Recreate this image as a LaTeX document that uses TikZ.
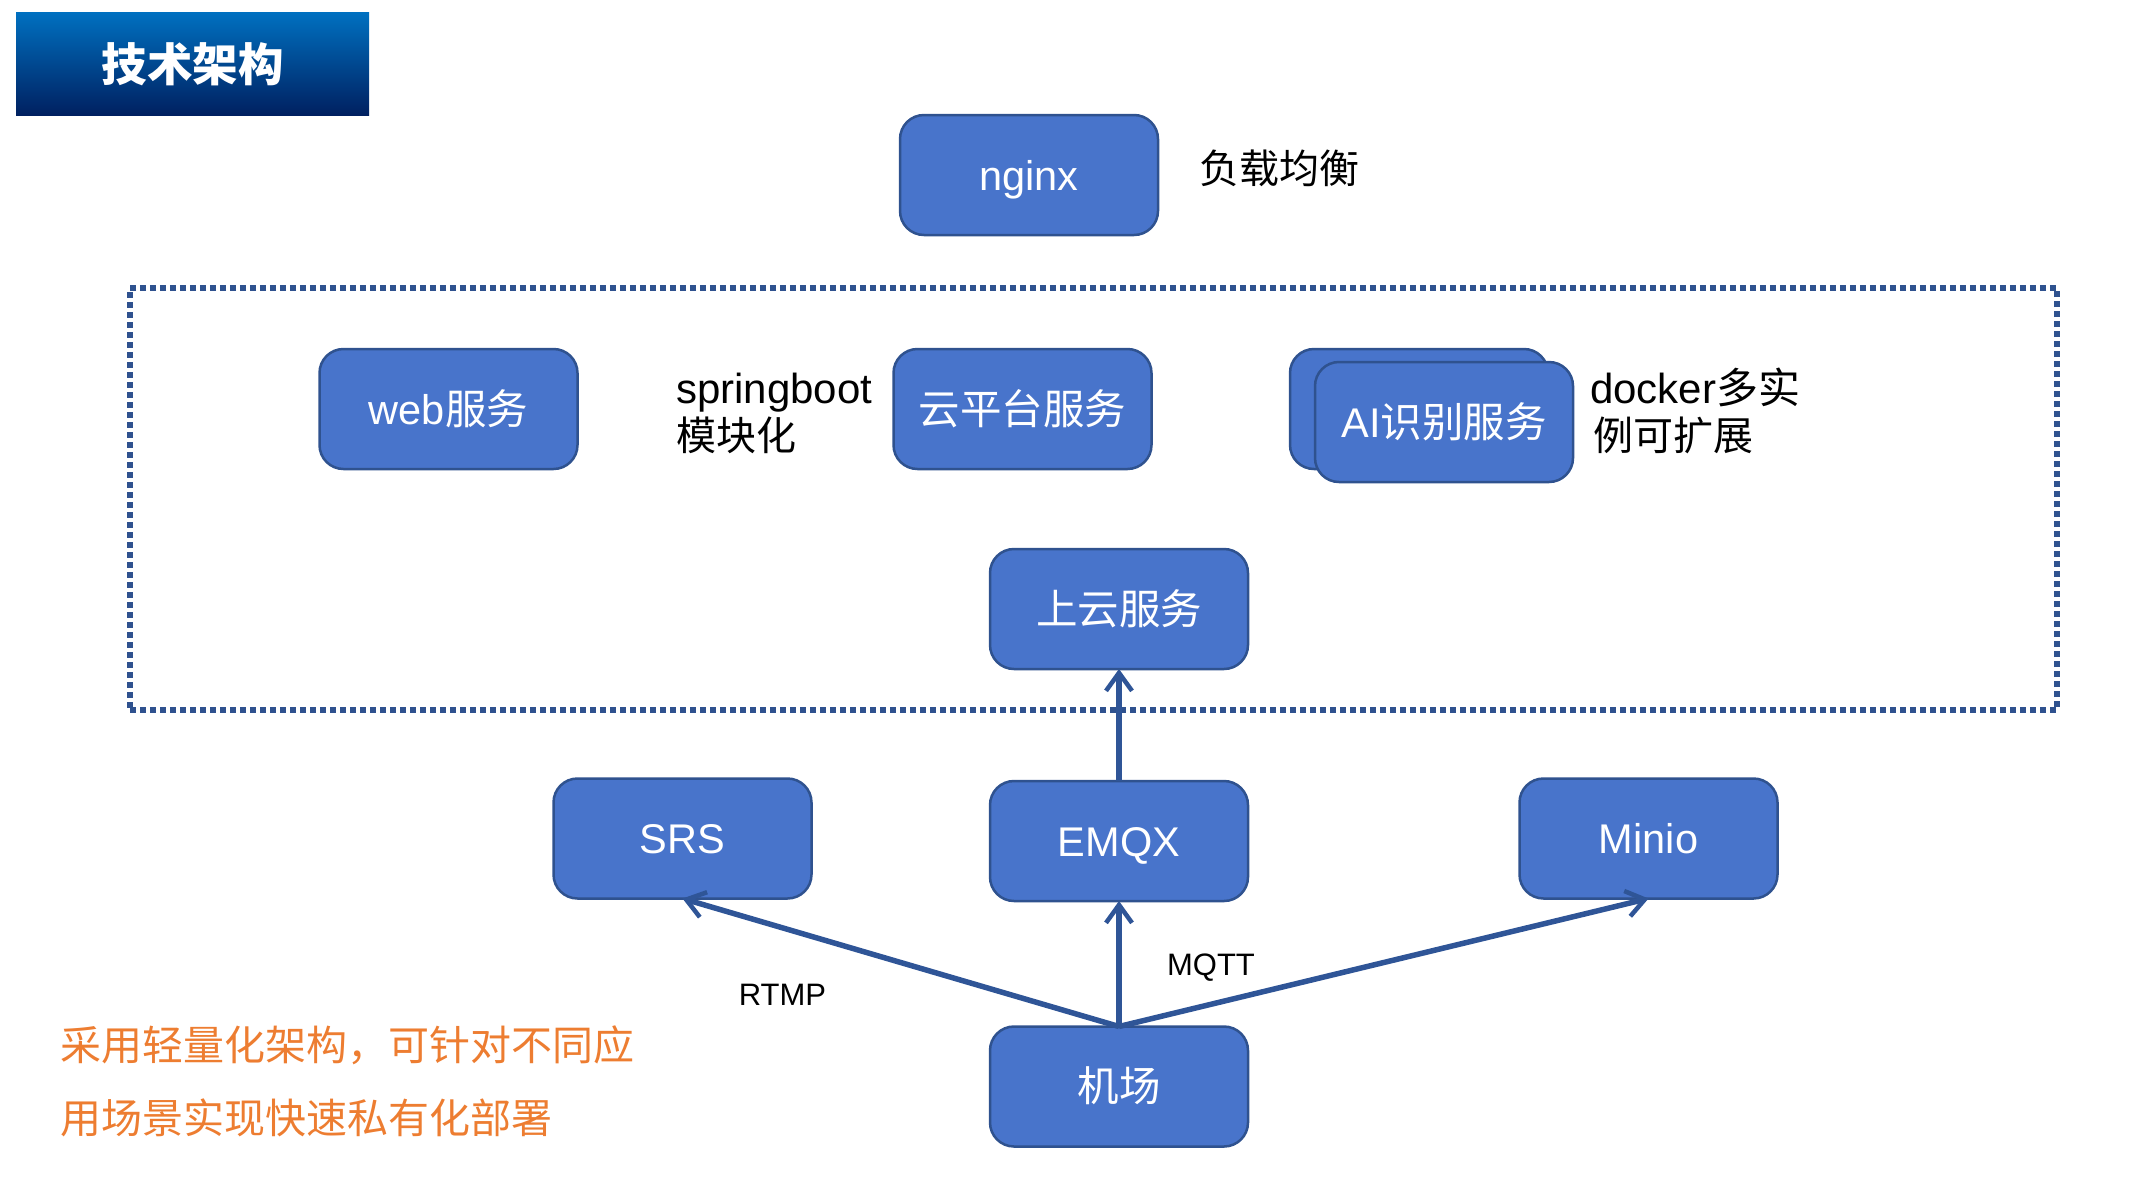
\documentclass[tikz,border=0pt]{standalone}
\usepackage{fontspec}
\setmainfont{Liberation Sans}
\newfontfamily\cjk{Noto Sans CJK SC}
\newcommand\cjkplain{\fontsize{40}{47}\selectfont\cjk}
\usetikzlibrary{arrows.meta}
\definecolor{boxfill}{HTML}{4874CB}
\definecolor{boxline}{HTML}{2F528F}
\definecolor{arrowline}{HTML}{2F5597}
\definecolor{orangetext}{HTML}{ED7D31}
\definecolor{titletop}{HTML}{0070C0}
\definecolor{titlebot}{HTML}{002060}
\tikzset{
  box/.style={draw=boxline,fill=boxfill,line width=2.5pt,rounded corners=24pt,
    minimum width=258pt,minimum height=120pt,inner sep=0pt,outer sep=0pt,text=white,
    font=\fontsize{41.5}{41.5}\selectfont,text height=34pt,text depth=4pt,anchor=center},
  link/.style={draw=arrowline,line width=5.5pt,-{Straight Barb[length=18pt,width=26pt,line width=4.5pt]}},
  plain/.style={inner sep=0pt,outer sep=0pt,anchor=west,align=left,text=black,
    font=\fontsize{42}{47}\selectfont},
  small/.style={inner sep=0pt,outer sep=0pt,anchor=center,text=black,
    font=\fontsize{31}{31}\selectfont},
  orange/.style={inner sep=0pt,outer sep=0pt,anchor=west,text=orangetext,
    font=\fontsize{41}{41}\selectfont\cjk}
}
\begin{document}
\begin{tikzpicture}[x=1pt,y=-1pt]
\useasboundingbox (0,0) rectangle (2151,1203);
\node[draw=none,inner sep=0pt,outer sep=0pt,minimum width=353pt,minimum height=103pt,
  top color=titletop,bottom color=titlebot,text=white,
  font=\fontsize{45.5}{45.5}\selectfont\cjk\bfseries] (title) at (192.5,64) {技术架构};
\node[draw=boxline,line width=5.5pt,dash pattern=on 6pt off 4pt,minimum width=1927pt,minimum height=422pt,
  inner sep=0pt,outer sep=0pt] (group) at (1093.5,499) {};
\node[box] (nginx) at (1029,175) {nginx};
\node[plain] (lb) at (1199,168) {\cjkplain 负载均衡};
\node[box] (web) at (448.5,409) {web{\cjk 服务}};
\node[plain] (spring) at (676,413) {springboot\\{\cjkplain 模块化}};
\node[box] (cloud) at (1022.5,409) {\cjk 云平台服务};
\node[box] (aiback) at (1419,409) {};
\node[box] (ai) at (1444,422) {AI{\cjk 识别服务}};
\node[plain] (docker) at (1590,411) {docker{\cjk 多实}\\{\cjkplain\hspace{3pt}例可扩展}};
\node[box] (up) at (1119,609) {\cjk 上云服务};
\node[box] (srs) at (682.5,838.5) {SRS};
\node[box] (emqx) at (1119,841) {EMQX};
\node[box] (minio) at (1648.5,838.5) {Minio};
\node[box] (airport) at (1119,1086.5) {\cjk 机场};
\draw[link] (emqx.north) -- (up.south);
\draw[link] (airport.north) -- (emqx.south);
\draw[link] (airport.north) -- (srs.south);
\draw[link] (airport.north) -- (minio.south);
\node[small] (rtmp) at (782.5,995) {RTMP};
\node[small] (mqtt) at (1211,968) {MQTT};
\node[orange] (note1) at (60,1045) {采用轻量化架构\symbol{"FF0C}可针对不同应};
\node[orange] (note2) at (60,1118) {用场景实现快速私有化部署};
\end{tikzpicture}
\end{document}
